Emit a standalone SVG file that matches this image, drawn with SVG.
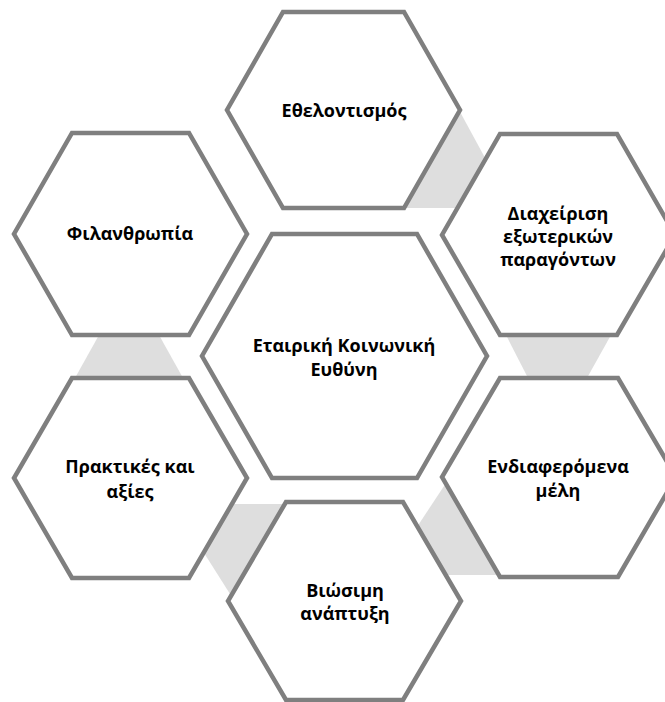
<svg xmlns="http://www.w3.org/2000/svg" width="665" height="702" viewBox="0 0 665 702">
<style>
.hex{fill:#ffffff;stroke:#7f7f7f;stroke-width:4.5;stroke-linejoin:miter}
.link{fill:#dedede;stroke:none}
.lbl{font-family:"Open Sans","Noto Sans","DejaVu Sans",sans-serif;font-weight:bold;font-size:18px;fill:#000000;text-anchor:middle}
</style>
<rect x="0" y="0" width="665" height="702" fill="#ffffff"/>
<g id="connectors">
<polygon class="link" points="459,110 490,167 470,208 400,208 430,150"/>
<polygon class="link" points="506,335 611,335 587,378 528,378"/>
<polygon class="link" points="99,335 159,335 183,378 75,378"/>
<polygon class="link" points="220,504 284,504 230,594 199,545"/>
<polygon class="link" points="448,480 415,530 440,575 505,575"/>
</g>
<g id="node-top">
<polygon class="hex" points="283,12 404,12 460,110 404,208 283,208 227,110"/>
<text class="lbl" x="344" y="117">Εθελοντισμός</text>
</g>
<g id="node-right-upper">
<polygon class="hex" points="500,134 617,134 675,235 617,335 500,335 442,235"/>
<text class="lbl" x="558" y="220">Διαχείριση</text>
<text class="lbl" x="558" y="243">εξωτερικών</text>
<text class="lbl" x="558" y="266">παραγόντων</text>
</g>
<g id="node-right-lower">
<polygon class="hex" points="500,378 618,378 676,477 618,577 500,577 442,477"/>
<text class="lbl" x="558" y="473">Ενδιαφερόμενα</text>
<text class="lbl" x="558" y="497">μέλη</text>
</g>
<g id="node-bottom">
<polygon class="hex" points="286,502 403,502 461,601 403,700 286,700 228,601"/>
<text class="lbl" x="345" y="597">Βιώσιμη</text>
<text class="lbl" x="345" y="620">ανάπτυξη</text>
</g>
<g id="node-left-lower">
<polygon class="hex" points="72,378 189,378 247,478 189,578 72,578 14,478"/>
<text class="lbl" x="130" y="473">Πρακτικές και</text>
<text class="lbl" x="130" y="498">αξίες</text>
</g>
<g id="node-left-upper">
<polygon class="hex" points="72,133 189,133 247,234 189,335 72,335 14,234"/>
<text class="lbl" x="130" y="240">Φιλανθρωπία</text>
</g>
<g id="node-center">
<polygon class="hex" points="272,234 417,234 487,356 417,478 272,478 202,356"/>
<text class="lbl" x="344" y="352">Εταιρική Κοινωνική</text>
<text class="lbl" x="344" y="376">Ευθύνη</text>
</g>
</svg>
